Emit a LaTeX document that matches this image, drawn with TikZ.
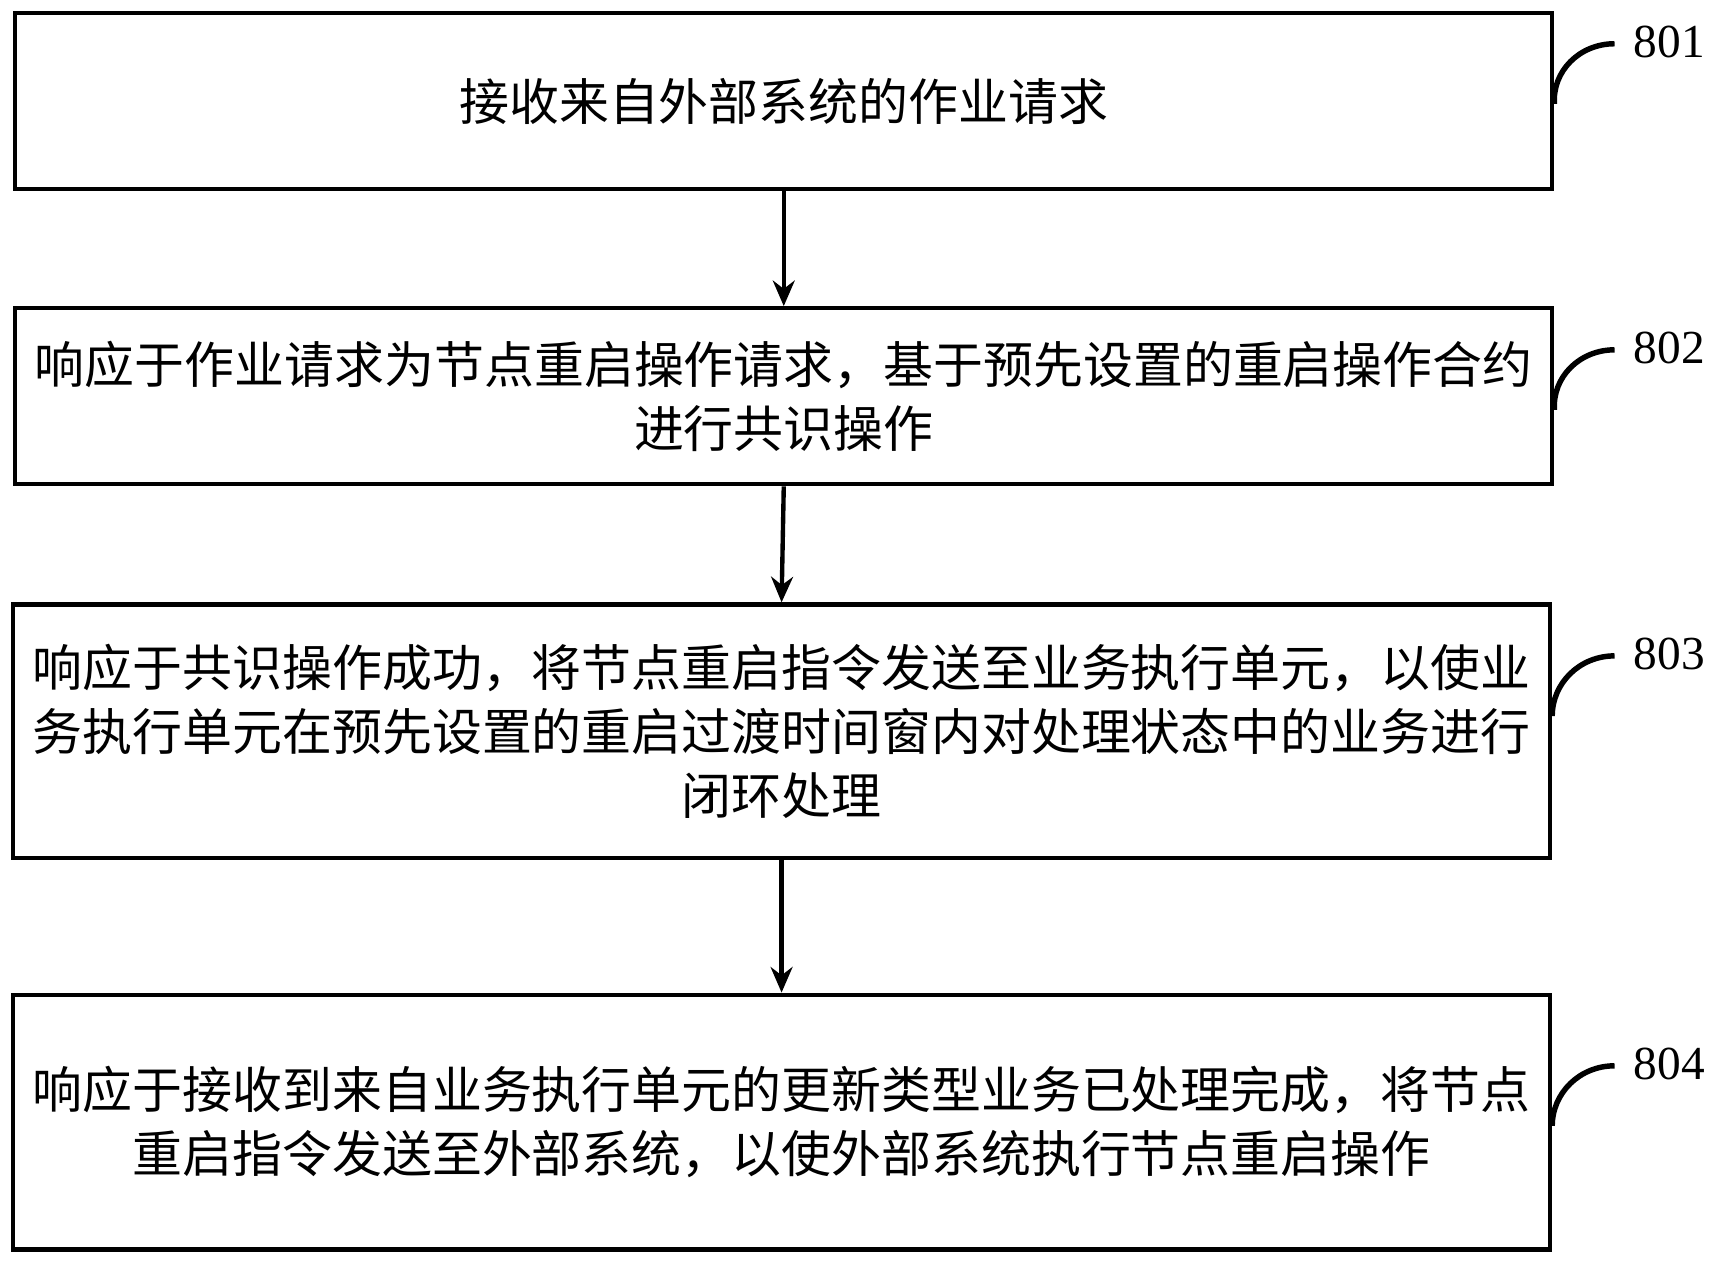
\documentclass[tikz,border=0pt]{standalone}
\usepackage{fontspec}
\setmainfont{Liberation Serif}
\newfontfamily\cjk{Noto Sans CJK SC}
\usetikzlibrary{positioning, arrows.meta}

\begin{document}
\begin{tikzpicture}[
        x=0.3pt, y=-0.3pt,
        step_style/.style={draw, line width=1.2pt, minimum width=421.8pt, inner sep=0pt, align=center, font=\cjk\fontsize{13.7}{17.6}\selectfont},
        flow_style/.style={-{Stealth[length=7pt, width=6pt]}, line width=1.2pt},
        tag_style/.style={line width=1.5pt},
        num_style/.style={font=\fontsize{13}{15}\selectfont, anchor=west}
    ]
        \useasboundingbox (0,0) rectangle (1568,1158);

        % Steps
        \node[step_style, minimum height=48.3pt] (s801) at (717,92.5) {接收来自外部系统的作业请求};
        \node[step_style, minimum height=48.3pt] (s802) at (717,362.5) {响应于作业请求为节点重启操作请求，基于预先设置的重启操作合约\\进行共识操作};
        \node[step_style, minimum height=69.6pt] (s803) at (715,669) {响应于共识操作成功，将节点重启指令发送至业务执行单元，以使业\\务执行单元在预先设置的重启过渡时间窗内对处理状态中的业务进行\\闭环处理};
        \node[step_style, minimum height=69.9pt] (s804) at (715,1026.5) {响应于接收到来自业务执行单元的更新类型业务已处理完成，将节点\\重启指令发送至外部系统，以使外部系统执行节点重启操作};

        % Arrows
        \draw[flow_style] (s801.south) -- (s802.north);
        \draw[flow_style] (s802.south) -- (s803.north);
        \draw[flow_style] (s803.south) -- (s804.north);

        % Tags
        \foreach \s/\y in {801/95, 802/375, 803/655, 804/1030} {
            \coordinate (t\s) at (1477,\y-55);
            \draw[tag_style] (s\s.east |- 0,\y) .. controls (1420,\y-30) and (1445,\y-55) .. (t\s);
            \node[num_style] (n\s) at (1483,\y-57) {\s};
        }
    \end{tikzpicture}
\end{document}
